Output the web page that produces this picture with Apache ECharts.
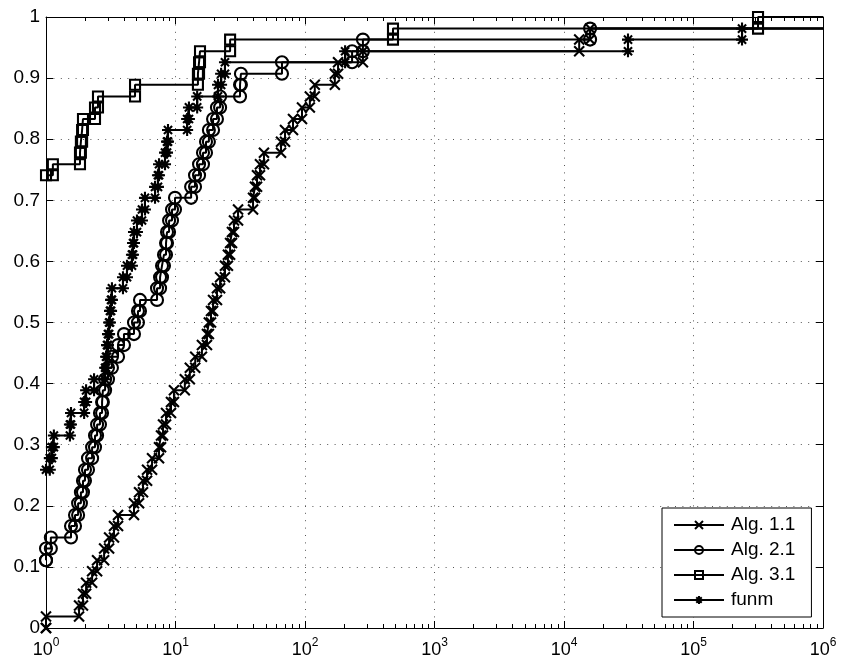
<!DOCTYPE html>
<html>
<head>
<meta charset="utf-8">
<script src="https://cdn.jsdelivr.net/npm/echarts@6/dist/echarts.min.js"></script>
<style>
html,body{margin:0;padding:0;background:#fff;}
#chart{width:841px;height:665px;}
</style>
</head>
<body>
<div id="chart"></div>
<script>
// ---------------- data (performance profile) ----------------
const seriesNames = ['Alg. 1.1', 'Alg. 2.1', 'Alg. 3.1', 'funm'];

const xMajorTicks = [1, 10, 100, 1000, 10000, 100000, 1000000];
const xMinorTicks = [
  2,3,4,5,6,7,8,9,
  20,30,40,50,60,70,80,90,
  200,300,400,500,600,700,800,900,
  2000,3000,4000,5000,6000,7000,8000,9000,
  20000,30000,40000,50000,60000,70000,80000,90000,
  200000,300000,400000,500000,600000,700000,800000,900000
];
const yTicks = [0, 0.1, 0.2, 0.3, 0.4, 0.5, 0.6, 0.7, 0.8, 0.9, 1];

// Alg. 1.1  (ratio where the profile steps, fraction after the step)
const alg11Ratio = [1, 1, 1.80, 1.93, 2.04, 2.27, 2.48, 2.81, 3.07, 3.35, 3.60, 4.78, 5.23, 5.61, 6.03, 6.59,
  7.46, 7.73, 8.01, 8.45, 9.23, 9.73, 11.8, 12.9, 14.2, 16.0, 17.5, 18.1, 18.8, 19.5, 20.9, 22.1, 24.1,
  25.4, 26.4, 27.3, 28.3, 30.4, 39.7, 41.1, 42.6, 44.9, 48.2, 65.3, 70.1, 80.8, 94.8, 109, 119, 170, 180,
  280, 13100, 15900];
const alg11Frac = [0, 0.019, 0.037, 0.056, 0.074, 0.093, 0.111, 0.130, 0.148, 0.167, 0.185, 0.204, 0.222,
  0.241, 0.259, 0.278, 0.296, 0.315, 0.333, 0.352, 0.370, 0.389, 0.407, 0.426, 0.444, 0.463, 0.481, 0.500,
  0.519, 0.537, 0.556, 0.574, 0.593, 0.611, 0.630, 0.648, 0.667, 0.685, 0.704, 0.722, 0.741, 0.759, 0.778,
  0.796, 0.815, 0.833, 0.852, 0.870, 0.889, 0.907, 0.926, 0.944, 0.963, 0.981];

// Alg. 2.1
const alg21Ratio = [1, 1, 1.09, 1.56, 1.675, 1.77, 1.86, 1.93, 2.0, 2.11, 2.27, 2.39, 2.48, 2.61, 2.71, 2.75,
  2.86, 3.01, 3.23, 3.60, 4.0, 4.78, 5.13, 5.32, 7.2, 7.6, 7.87, 8.15, 8.45, 8.6, 8.92, 9.4, 9.91, 13.2,
  14.15, 15.2, 16.3, 17.2, 18.1, 19.5, 20.9, 22.1, 31.5, 32.0, 66.4, 231, 280, 15900];
const alg21Frac = [0.111, 0.130, 0.148, 0.167, 0.185, 0.204, 0.222, 0.241, 0.259, 0.278, 0.296, 0.315, 0.333,
  0.352, 0.370, 0.389, 0.407, 0.426, 0.444, 0.463, 0.481, 0.500, 0.519, 0.537, 0.556, 0.574, 0.593, 0.611,
  0.630, 0.648, 0.667, 0.685, 0.704, 0.722, 0.741, 0.759, 0.778, 0.796, 0.815, 0.833, 0.852, 0.870, 0.889,
  0.907, 0.926, 0.944, 0.963, 0.981];

// Alg. 3.1
const alg31Ratio = [1, 1.13, 1.83, 1.86, 1.90, 1.93, 2.39, 2.52, 4.87, 14.9, 15.2, 15.46, 26.4, 478, 315000];
const alg31Frac = [0.741, 0.759, 0.778, 0.796, 0.815, 0.833, 0.852, 0.870, 0.889, 0.907, 0.926, 0.944,
  0.963, 0.981, 1.0];

// funm
const funmRatio = [1, 1.07, 1.11, 1.15, 1.53, 1.56, 1.97, 2.04, 2.35, 2.86, 2.91, 2.96, 3.01, 3.07, 3.12,
  3.18, 3.23, 3.93, 4.22, 4.61, 4.70, 4.78, 5.04, 5.51, 5.81, 6.95, 7.32, 7.46, 8.3, 8.6, 8.75, 12.3, 12.7,
  14.7, 21.3, 22.5, 24.1, 204, 31200, 237000];
const funmFrac = [0.259, 0.278, 0.296, 0.315, 0.333, 0.352, 0.370, 0.389, 0.407, 0.426, 0.444, 0.463, 0.481,
  0.500, 0.519, 0.537, 0.556, 0.574, 0.593, 0.611, 0.630, 0.648, 0.667, 0.685, 0.704, 0.722, 0.741, 0.759,
  0.778, 0.796, 0.815, 0.833, 0.852, 0.870, 0.889, 0.907, 0.926, 0.944, 0.963, 0.981];

// ---------------- chart ----------------
const FONT = '"Liberation Sans", Arial, Helvetica, sans-serif';
const X_END = xMajorTicks[xMajorTicks.length - 1];

// stair vertices (markers at every corner, like MATLAB stairs output)
function stairs(xs, ys) {
  const pts = [];
  for (let i = 0; i < xs.length; i++) {
    if (i > 0) pts.push([xs[i], ys[i - 1]]);
    pts.push([xs[i], ys[i]]);
  }
  pts.push({ value: [X_END, ys[ys.length - 1]], symbol: 'none' });
  return pts;
}

const SYM_X = 'path://M0,0L10,10M10,0L0,10';
const SYM_AST = 'path://M5,0L5,10M0,5L10,5M1.6,1.6L8.4,8.4M8.4,1.6L1.6,8.4';

function mkSeries(name, xs, ys, symbol, size) {
  return {
    name: name,
    type: 'line',
    data: stairs(xs, ys),
    symbol: symbol,
    symbolSize: size,
    showAllSymbol: true,
    showSymbol: true,
    clip: false,
    lineStyle: { color: '#000', width: 2 },
    itemStyle: { color: 'rgba(0,0,0,0)', borderColor: '#000', borderWidth: 2.1 },
    emphasis: { disabled: true },
    animation: false
  };
}

const dotted = { color: '#555', width: 1, type: [1, 6.4] };

const chart = echarts.init(document.getElementById('chart'), null, { renderer: 'canvas' });
chart.setOption({
  animation: false,
  backgroundColor: '#fff',
  grid: { left: 46, right: 18, top: 17, bottom: 37, containLabel: false },
  xAxis: [
    {
      type: 'log', logBase: 10, min: 1, max: X_END, position: 'bottom',
      axisLine: { show: true, lineStyle: { color: '#000', width: 1 } },
      axisTick: { show: true, inside: true, length: 7, customValues: xMajorTicks, lineStyle: { color: '#000' } },
      splitLine: { show: true, lineStyle: dotted },
      axisLabel: {
        show: true, margin: 9, customValues: xMajorTicks,
        formatter: function (v) { return '{b|10}{s|' + Math.round(Math.log10(v)) + '}'; },
        rich: {
          b: { fontSize: 18, fontFamily: FONT, color: '#000', lineHeight: 26 },
          s: { fontSize: 12, fontFamily: FONT, color: '#000', lineHeight: 8, verticalAlign: 'top' }
        }
      }
    },
    {
      type: 'log', logBase: 10, min: 1, max: X_END, position: 'bottom',
      axisLine: { show: false },
      axisTick: { show: true, inside: true, length: 4, customValues: xMinorTicks, lineStyle: { color: '#000' } },
      splitLine: { show: false },
      axisLabel: { show: false }
    },
    {
      type: 'log', logBase: 10, min: 1, max: X_END, position: 'top',
      axisLine: { show: true, lineStyle: { color: '#000', width: 1 } },
      axisTick: { show: true, inside: true, length: 7, customValues: xMajorTicks, lineStyle: { color: '#000' } },
      splitLine: { show: false },
      axisLabel: { show: false }
    },
    {
      type: 'log', logBase: 10, min: 1, max: X_END, position: 'top',
      axisLine: { show: false },
      axisTick: { show: true, inside: true, length: 4, customValues: xMinorTicks, lineStyle: { color: '#000' } },
      splitLine: { show: false },
      axisLabel: { show: false }
    }
  ],
  yAxis: [
    {
      type: 'value', min: 0, max: 1, interval: 0.1, position: 'left',
      axisLine: { show: true, lineStyle: { color: '#000', width: 1 } },
      axisTick: { show: true, inside: true, length: 7, customValues: yTicks, lineStyle: { color: '#000' } },
      splitLine: { show: true, lineStyle: dotted },
      axisLabel: {
        show: true, margin: 6, customValues: yTicks, fontSize: 19, fontFamily: FONT, color: '#000',
        formatter: function (v) { return String(Math.round(v * 10) / 10); }
      }
    },
    {
      type: 'value', min: 0, max: 1, interval: 0.1, position: 'right',
      axisLine: { show: true, lineStyle: { color: '#000', width: 1 } },
      axisTick: { show: true, inside: true, length: 7, customValues: yTicks, lineStyle: { color: '#000' } },
      splitLine: { show: false },
      axisLabel: { show: false }
    }
  ],
  legend: {
    orient: 'vertical',
    left: 662, top: 508,
    padding: [7, 16, 7, 11],
    itemWidth: 50, itemHeight: 10, itemGap: 5,
    backgroundColor: '#fff',
    borderColor: '#000', borderWidth: 1, borderRadius: 0,
    selectedMode: false,
    data: seriesNames,
    textStyle: { fontSize: 19, fontFamily: FONT, color: '#000', lineHeight: 20, padding: [0, 0, 0, 2] }
  },
  series: [
    mkSeries(seriesNames[0], alg11Ratio, alg11Frac, SYM_X, 10),
    mkSeries(seriesNames[1], alg21Ratio, alg21Frac, 'circle', 12),
    mkSeries(seriesNames[2], alg31Ratio, alg31Frac, 'rect', 10),
    mkSeries(seriesNames[3], funmRatio, funmFrac, SYM_AST, 12)
  ]
});
</script>
</body>
</html>
